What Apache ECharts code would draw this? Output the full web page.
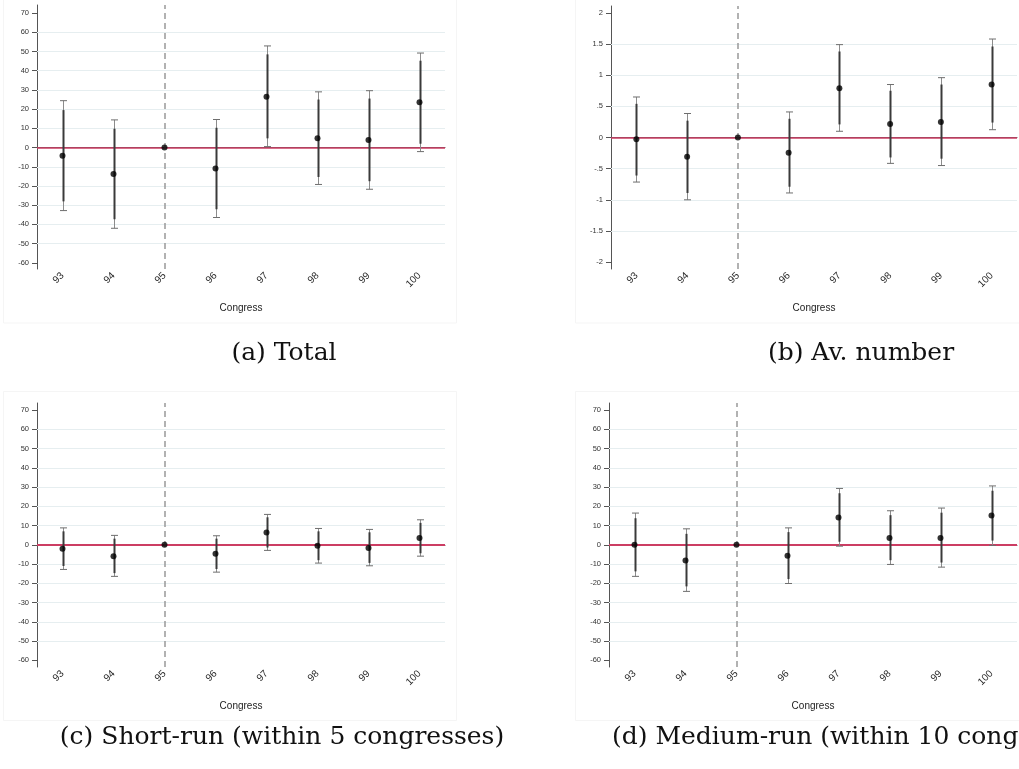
<!DOCTYPE html>
<html>
<head>
<meta charset="utf-8">
<script src="https://cdn.jsdelivr.net/npm/echarts@6/dist/echarts.min.js"></script>
<style>
  html, body { margin: 0; padding: 0; background: #fff; }
  #chart { width: 1019px; height: 769px; }
</style>
</head>
<body>
<div id="chart"></div>
<script>
// categories and axis ticks
const congresses = ['93', '94', '95', '96', '97', '98', '99', '100']
const countTicks = [-60, -50, -40, -30, -20, -10, 0, 10, 20, 30, 40, 50, 60, 70]
const countGrid = [-50, -40, -30, -20, -10, 10, 20, 30, 40, 50, 60]
const avTicks = [-2, -1.5, -1, -0.5, 0, 0.5, 1, 1.5, 2]
const avGrid = [-1.5, -1, -0.5, 0.5, 1, 1.5]

// (a) Total
const totalEst = [-4.3, -13.7, 0, -10.9, 26.5, 4.8, 4.0, 23.6]
const totalLo = [-32.8, -42.0, null, -36.4, 0.5, -19.2, -21.7, -2.1]
const totalHi = [24.4, 14.4, null, 14.6, 52.9, 29.0, 29.6, 49.2]
const totalInLo = [-28.0, -37.3, null, -32.1, 4.8, -15.3, -17.5, 2.0]
const totalInHi = [19.5, 9.8, null, 10.3, 48.5, 25.0, 25.5, 45.2]

// (b) Av. number
const avEst = [-0.03, -0.31, 0, -0.245, 0.79, 0.215, 0.25, 0.85]
const avLo = [-0.715, -1.0, null, -0.89, 0.10, -0.415, -0.45, 0.125]
const avHi = [0.65, 0.385, null, 0.41, 1.49, 0.85, 0.96, 1.58]
const avInLo = [-0.61, -0.89, null, -0.79, 0.21, -0.32, -0.34, 0.24]
const avInHi = [0.54, 0.27, null, 0.30, 1.38, 0.75, 0.85, 1.46]

// (c) Short-run
const shortEst = [-2.1, -5.9, 0, -4.7, 6.4, -0.5, -1.6, 3.5]
const shortLo = [-12.8, -16.4, null, -14.2, -2.9, -9.5, -10.9, -5.9]
const shortHi = [8.8, 4.9, null, 4.7, 15.8, 8.5, 8.0, 13.0]
const shortInLo = [-11.0, -14.7, null, -12.6, -1.4, -8.0, -9.4, -4.4]
const shortInHi = [7.0, 3.2, null, 3.2, 14.3, 7.0, 6.5, 11.4]

// (d) Medium-run
const medEst = [0.0, -8.1, 0, -5.7, 14.2, 3.6, 3.6, 15.2]
const medLo = [-16.4, -24.2, null, -20.1, -0.7, -10.2, -11.6, -0.3]
const medHi = [16.5, 8.3, null, 8.8, 29.3, 17.7, 19.1, 30.6]
const medInLo = [-13.8, -21.6, null, -17.8, 1.6, -8.0, -9.2, 2.2]
const medInHi = [13.8, 5.7, null, 6.6, 26.8, 15.4, 16.7, 28.1]

const captions = [
    '(a) Total',
    '(b) Av. number',
    '(c) Short-run (within 5 congresses)',
    '(d) Medium-run (within 10 congresses)',
]

const panels = [
    { est: totalEst, lo: totalLo, hi: totalHi, inLo: totalInLo, inHi: totalInHi, ticks: countTicks, grid: countGrid, min: -63.2, max: 74.2,
      box: { left: 37, top: 5, width: 408, height: 264 } },
    { est: avEst, lo: avLo, hi: avHi, inLo: avInLo, inHi: avInHi, ticks: avTicks, grid: avGrid, min: -2.11, max: 2.11,
      box: { left: 611, top: 6, width: 406, height: 263 } },
    { est: shortEst, lo: shortLo, hi: shortHi, inLo: shortInLo, inHi: shortInHi, ticks: countTicks, grid: countGrid, min: -63.5, max: 73.7,
      box: { left: 37, top: 403, width: 408, height: 264 } },
    { est: medEst, lo: medLo, hi: medHi, inLo: medInLo, inHi: medInHi, ticks: countTicks, grid: countGrid, min: -63.5, max: 73.7,
      box: { left: 609, top: 403, width: 408, height: 264 } },
]

// stata style: .5 instead of 0.5
const fmtY = (v) => String(v).replace(/^(-?)0\./, '$1.')

const renderError = (params, api) => {
    const i = api.value(0)
    const hi = api.coord([i, api.value(2)])
    const lo = api.coord([i, api.value(1)])
    const ihi = api.coord([i, api.value(4)])
    const ilo = api.coord([i, api.value(3)])
    const x = Math.round(hi[0]) + 0.5
    const w = 3.5
    return {
        type: 'group',
        children: [
            { type: 'line', shape: { x1: x, y1: hi[1], x2: x, y2: lo[1] }, style: { stroke: '#8c8c8c', lineWidth: 1 } },
            { type: 'line', shape: { x1: x - w, y1: hi[1], x2: x + w, y2: hi[1] }, style: { stroke: '#6e6e6e', lineWidth: 1 } },
            { type: 'line', shape: { x1: x - w, y1: lo[1], x2: x + w, y2: lo[1] }, style: { stroke: '#6e6e6e', lineWidth: 1 } },
            { type: 'line', shape: { x1: x, y1: ihi[1], x2: x, y2: ilo[1] }, style: { stroke: '#3a3a3a', lineWidth: 2 } },
        ]
    }
}

const grids = []
const xAxes = []
const yAxes = []
const series = []

panels.forEach((p, k) => {
    grids.push(Object.assign({ containLabel: false }, p.box))
    xAxes.push({
        type: 'category',
        gridIndex: k,
        data: congresses,
        boundaryGap: true,
        name: 'Congress',
        nameLocation: 'middle',
        nameGap: 34,
        nameTextStyle: { fontFamily: 'Liberation Sans', fontSize: 10, color: '#222' },
        axisLine: { lineStyle: { color: '#555', width: 1 } },
        axisTick: { alignWithLabel: true, length: 5, lineStyle: { color: '#555' } },
        axisLabel: { rotate: 45, fontFamily: 'Liberation Sans', fontSize: 10, color: '#2a2a2a', margin: 5 },
        splitLine: { show: false },
    })
    yAxes.push({
        type: 'value',
        gridIndex: k,
        min: p.min,
        max: p.max,
        axisLine: { show: true, lineStyle: { color: '#555', width: 1 } },
        axisTick: { show: true, length: 5, customValues: p.ticks, lineStyle: { color: '#555' } },
        axisLabel: { customValues: p.ticks, formatter: fmtY, fontFamily: 'Liberation Sans', fontSize: 7.5, color: '#333', margin: 8 },
        splitLine: { show: false },
    })
    // light gridlines
    series.push({
        type: 'line',
        xAxisIndex: k,
        yAxisIndex: k,
        data: [],
        z: 1,
        silent: true,
        markLine: {
            z: 1,
            silent: true,
            symbol: 'none',
            label: { show: false },
            lineStyle: { color: '#e6eef0', width: 1, type: 'solid' },
            data: p.grid.map((v) => ({ yAxis: v })),
        },
    })
    // zero line and reference congress
    series.push({
        type: 'line',
        xAxisIndex: k,
        yAxisIndex: k,
        data: [],
        z: 2,
        silent: true,
        markLine: {
            z: 2,
            silent: true,
            symbol: 'none',
            label: { show: false },
            data: [
                { yAxis: 0, lineStyle: { color: '#cc3d63', width: k < 2 ? 1.5 : 2, type: 'solid' } },
                { xAxis: '95', lineStyle: { color: '#999', width: 1.5, type: [6, 4] } },
            ],
        },
    })
    const bars = []
    congresses.forEach((c, i) => {
        if (p.lo[i] !== null) bars.push([i, p.lo[i], p.hi[i], p.inLo[i], p.inHi[i]])
    })
    series.push({
        type: 'custom',
        xAxisIndex: k,
        yAxisIndex: k,
        z: 3,
        renderItem: renderError,
        encode: { x: 0, y: [1, 2] },
        data: bars,
    })
    series.push({
        type: 'scatter',
        xAxisIndex: k,
        yAxisIndex: k,
        z: 4,
        symbol: 'circle',
        symbolSize: 6,
        itemStyle: { color: '#000' },
        data: p.est,
    })
})

const frame = (x, y, w, h) => ({
    type: 'rect',
    shape: { x: x, y: y, width: w, height: h },
    style: { fill: 'none', stroke: '#f5f5f5', lineWidth: 1 },
    silent: true,
    z: -1,
})

const caption = (text, x, y, align) => ({
    type: 'text',
    x: x,
    y: y,
    style: { text: text, font: '25px "DejaVu Serif"', fill: '#111', align: align, verticalAlign: 'middle' },
    silent: true,
})

const option = {
    backgroundColor: '#fff',
    animation: false,
    grid: grids,
    xAxis: xAxes,
    yAxis: yAxes,
    series: series,
    graphic: [
        frame(3.5, -1, 453, 324),
        frame(575.5, -1, 450, 324),
        frame(3.5, 391.5, 453, 329),
        frame(575.5, 391.5, 450, 329),
        caption(captions[0], 284, 353, 'center'),
        caption(captions[1], 861, 353, 'center'),
        caption(captions[2], 282, 737, 'center'),
        caption(captions[3], 612, 737, 'left'),
    ],
}

const myChart = echarts.init(document.getElementById('chart'))
option && myChart.setOption(option)
</script>
</body>
</html>
